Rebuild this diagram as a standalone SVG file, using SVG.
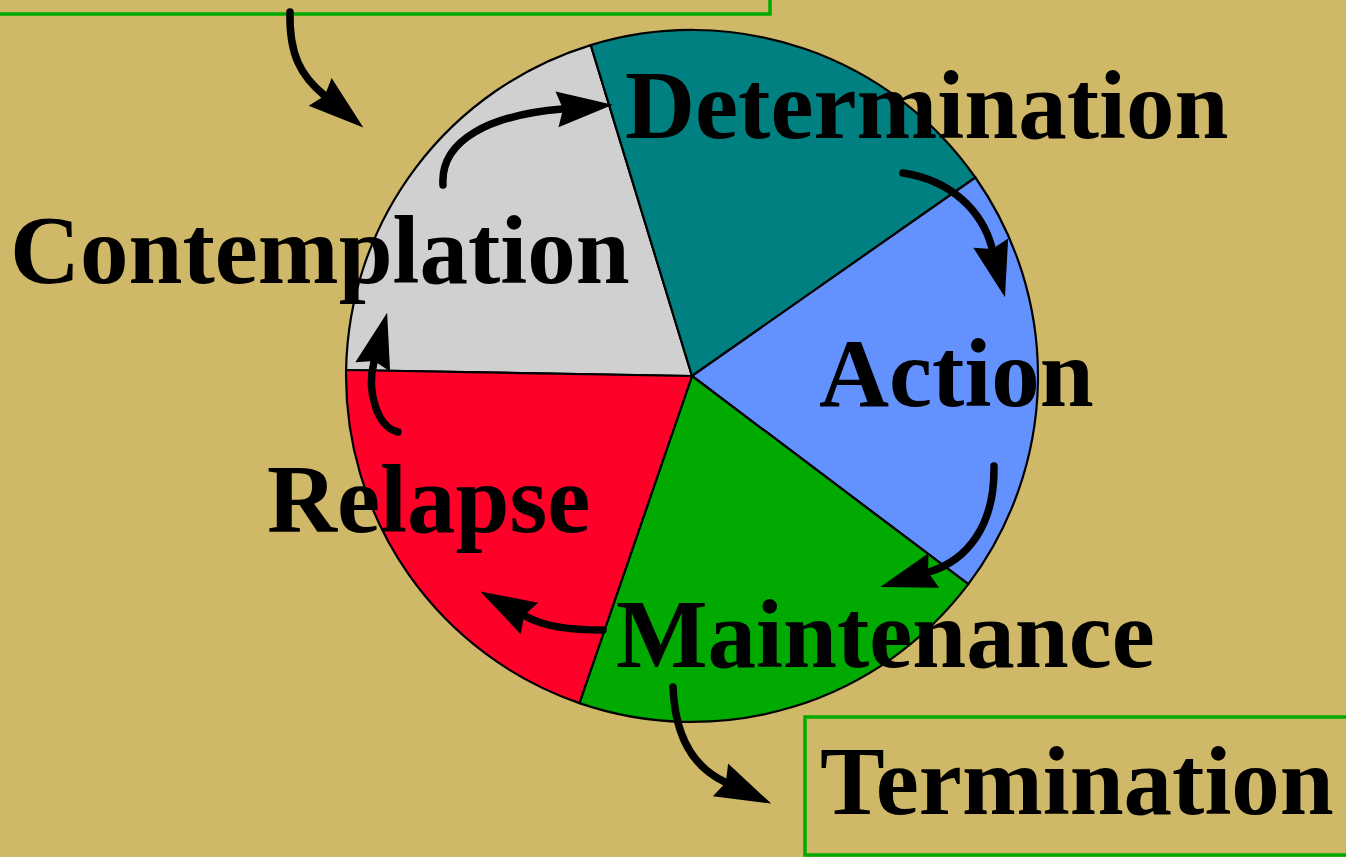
<svg xmlns="http://www.w3.org/2000/svg" width="1346" height="857" viewBox="0 0 1346 857">
<style>
.seg{stroke:#000;stroke-width:2.2;stroke-linejoin:round}
.box{fill:#CFB969;stroke:#00AA00;stroke-width:3.5}
.lbl{font-family:"Liberation Serif","Times New Roman",serif;font-weight:bold;font-size:97px;fill:#000}
.arr{fill:none;stroke:#000;stroke-width:7.5;stroke-linecap:round}
</style>
<defs>
<marker id="ah" markerUnits="userSpaceOnUse" markerWidth="70" markerHeight="44" refX="5" refY="0" viewBox="0 -22 70 44" orient="auto" overflow="visible">
<path d="M0,-18 L56,0 L0,18 L6,0 z" fill="#000"/>
</marker>
</defs>
<rect width="1346" height="857" fill="#CFB969"/>
<g id="precontemplation-box"><rect class="box" x="-10" y="-10" width="780" height="24"/></g>
<g id="pie">
<g id="contemplation-seg"><path class="seg" fill="#D0D0D0" d="M692,376 L346.1,370 A346,346 0 0 1 590.8,45.1 Z"/></g>
<g id="determination-seg"><path class="seg" fill="#008080" d="M692,376 L590.8,45.1 A346,346 0 0 1 975.4,177.5 Z"/></g>
<g id="action-seg"><path class="seg" fill="#6392FF" d="M692,376 L975.4,177.5 A346,346 0 0 1 968.3,584.2 Z"/></g>
<g id="maintenance-seg"><path class="seg" fill="#00AA00" d="M692,376 L968.3,584.2 A346,346 0 0 1 579.4,703.1 Z"/></g>
<g id="relapse-seg"><path class="seg" fill="#FF0028" d="M692,376 L579.4,703.1 A346,346 0 0 1 346.1,370 Z"/></g>
</g>
<g id="termination-box"><rect class="box" x="805" y="717" width="560" height="138"/></g>
<g id="connectors">
<path class="arr" marker-end="url(#ah)" d="M290,12 C289,55 301,76 324,95"/>
<path class="arr" marker-end="url(#ah)" d="M443,185 C440,140 490,115 562,109"/>
<path class="arr" marker-end="url(#ah)" d="M903,173 C950,180 982,210 992,248"/>
<path class="arr" marker-end="url(#ah)" d="M994,466 C995,525 968,560 929,572"/>
<path class="arr" marker-end="url(#ah)" d="M603,630 C570,630 545,627 525,616"/>
<path class="arr" marker-end="url(#ah)" d="M398,432 C378,428 366,392 374,362"/>
<path class="arr" marker-end="url(#ah)" d="M673,687 C675,740 695,768 725,782"/>
</g>
<g id="labels">
<g id="determination"><text class="lbl" x="625" y="138">Determination</text></g>
<g id="contemplation"><text class="lbl" x="10" y="283">Contemplation</text></g>
<g id="action"><text class="lbl" x="819" y="406">Action</text></g>
<g id="relapse"><text class="lbl" x="267" y="532">Relapse</text></g>
<g id="maintenance"><text class="lbl" x="616" y="667">Maintenance</text></g>
<g id="termination"><text class="lbl" x="820" y="814">Termination</text></g>
</g>
</svg>
